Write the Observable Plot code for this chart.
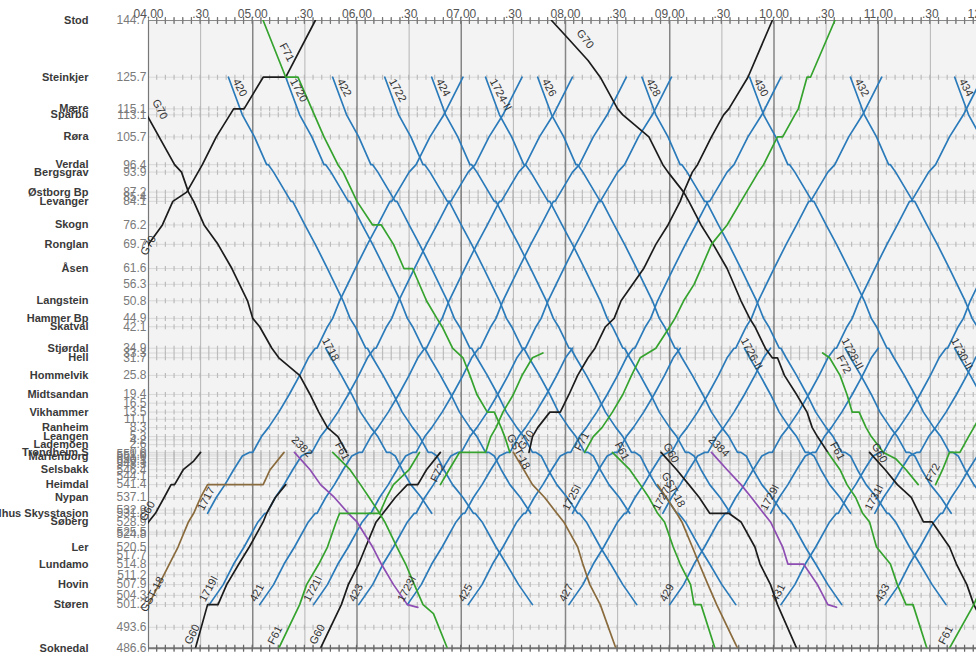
<!DOCTYPE html>
<html><head><meta charset="utf-8">
<script src="https://cdn.jsdelivr.net/npm/d3@7"></script>
<script src="https://cdn.jsdelivr.net/npm/@observablehq/plot@0.6"></script>
<style>html,body{margin:0;padding:0;overflow:hidden;background:#fff}</style>
</head><body><div id="chart"></div>
<script>
// ---------- DATA ----------
// stations north of Trondheim (km from Trondheim S)
const stationsN = [["Stod",144.7],["Steinkjer",125.7],["Mære",115.1],["Sparbu",113.1],["Røra",105.7],["Verdal",96.4],["Bergsgrav",93.9],["Østborg Bp",87.2],["",85.4],["Levanger",84.1],["Skogn",76.2],["Ronglan",69.7],["Åsen",61.6],["",56.3],["Langstein",50.8],["Hammer Bp",44.9],["Skatval",42.1],["Stjørdal",34.9],["",33.3],["Hell",31.7],["Hommelvik",25.8],["Midtsandan",19.4],["",16.5],["Vikhammer",13.5],["",11.1],["Ranheim",8.3],["Leangen",5.3],["",4.2],["Lademoen",2.6],["Trondheim S",0.0]];
// stations on Dovrebanen south of Trondheim (km from Oslo)
const stationsD = [["",551.6],["Marienborg",551.0],["",550.1],["",549.3],["",548.3],["Selsbakk",546.4],["",544.1],["Heimdal",541.4],["Nypan",537.1],["",532.9],["Melhus Skysstasjon",531.8],["Søberg",528.9],["",525.5],["",524.8],["Ler",520.5],["",517.7],["Lundamo",514.8],["",511.2],["Hovin",507.9],["",504.3],["Støren",501.2],["",493.6],["Soknedal",486.6]];

const timeTicks = [["04:00","04.00"],["04:30",".30"],["05:00","05.00"],["05:30",".30"],["06:00","06.00"],["06:30",".30"],["07:00","07.00"],["07:30",".30"],["08:00","08.00"],["08:30",".30"],["09:00","09.00"],["09:30",".30"],["10:00","10.00"],["10:30",".30"],["11:00","11.00"],["11:30",".30"],["12:00","12.00"]];

// local trains southbound: [station, arr, dep] minutes after Steinkjer departure
const southRun = [["Steinkjer",0,0],["Sparbu",8,8],["Røra",15,15],["Verdal",22,23],["Bergsgrav",26,26],["Levanger",36,37],["Skogn",44,44],["Ronglan",50,50],["Åsen",57,57],["Langstein",66,66],["Hammer Bp",70,70],["Skatval",73,73],["Stjørdal",79,80],["Hell",83,83],["Hommelvik",89,89],["Midtsandan",95,95],["Vikhammer",100,100],["Ranheim",106,106],["Leangen",110,110],["Trondheim S",115,117],["Marienborg",120,120],["Selsbakk",124,124],["Heimdal",129,129],["Nypan",135,135],["Melhus Skysstasjon",141,142],["Søberg",146,146],["Ler",154,154],["Lundamo",160,160],["Hovin",167,167],["Støren",175,175]];
// local trains northbound: minutes after Støren departure
const northRun = [["Støren",0,0],["Hovin",8,8],["Lundamo",14,14],["Ler",20,20],["Søberg",28,28],["Melhus Skysstasjon",32,33],["Nypan",38,38],["Heimdal",43,43],["Selsbakk",48,48],["Marienborg",53,53],["Trondheim S",57,59],["Leangen",64,64],["Ranheim",68,68],["Vikhammer",74,74],["Midtsandan",80,80],["Hommelvik",86,86],["Hell",91,91],["Stjørdal",95,96],["Skatval",102,102],["Hammer Bp",105,105],["Langstein",109,109],["Åsen",118,118],["Ronglan",125,125],["Skogn",131,131],["Levanger",138,139],["Bergsgrav",149,149],["Verdal",153,153],["Røra",161,161],["Sparbu",169,169],["Steinkjer",180,180]];

const southLocals = [["420","Steinkjer","04:46","Støren"],["1720","Steinkjer","05:19","Melhus Skysstasjon"],["1718","Stjørdal","05:42","Melhus Skysstasjon"],["422","Steinkjer","05:46","Støren"],["1722","Steinkjer","06:16","Melhus Skysstasjon"],["424","Steinkjer","06:43","Støren"],["1724-II","Steinkjer","07:14","Melhus Skysstasjon"],["426","Steinkjer","07:44","Støren"],["428","Steinkjer","08:44","Støren"],["1726-II","Stjørdal","09:43","Melhus Skysstasjon"],["430","Steinkjer","09:46","Støren"],["1728-II","Stjørdal","10:41","Melhus Skysstasjon"],["432","Steinkjer","10:44","Støren"],["1730-II","Stjørdal","11:44","Melhus Skysstasjon"],["434","Steinkjer","11:44","Støren"]];
const northLocals = [["1717","Melhus Skysstasjon","04:34","Steinkjer"],["1719I","Støren","04:35","Steinkjer"],["421","Støren","05:04","Steinkjer"],["1721I","Støren","05:35","Steinkjer"],["423","Støren","06:01","Steinkjer"],["1723I","Støren","06:29","Stjørdal"],["425","Støren","07:04","Steinkjer"],["427","Støren","08:02","Steinkjer"],["1725I","Melhus Skysstasjon","08:04","Stjørdal"],["1727I","Melhus Skysstasjon","08:56","Stjørdal"],["429","Støren","09:00","Steinkjer"],["1729I","Melhus Skysstasjon","09:58","Stjørdal"],["431","Støren","10:04","Steinkjer"],["1731I","Melhus Skysstasjon","10:58","Stjørdal"],["433","Støren","11:04","Steinkjer"]];

const blackTrains = [
 {id:"G70", lab:["04:02",117.5], rot:62, dx:0, dy:0, pts:[["03:47","Steinkjer"],["04:15","Verdal"],["04:19","Bergsgrav"],["04:23","Østborg Bp"],["04:26","Levanger"],["04:32","Skogn"],["04:40","Ronglan"],["04:48","Åsen"],["04:57","Langstein"],["05:00","Hammer Bp"],["05:04","Skatval"],["05:11","Stjørdal"],["05:15","Hell"],["05:27","Hommelvik"],["05:33","Midtsandan"],["05:38","Vikhammer"],["05:43","Ranheim"],["05:49","Leangen"],["05:54","Trondheim S"]]},
 {id:"G70", lab:["04:00","Ronglan"], rot:-62, dx:-2, dy:12, pts:[["03:52","Åsen"],["04:00","Ronglan"],["04:08","Skogn"],["04:14","Levanger"],["04:22","Østborg Bp"],["04:31","Verdal"],["04:39","Røra"],["04:49","Mære"],["04:55","Mære"],["05:06","Steinkjer"],["05:19","Steinkjer"],["05:36","Stod"]]},
 {id:"G70", lab:["08:06",140.5], rot:52, dx:0, dy:0, pts:[["07:52","Stod"],["08:01",139.0],["08:13",131.3],["08:20","Steinkjer"],["08:30","Mære"],["08:33","Sparbu"],["08:48","Røra"],["08:56","Verdal"],["08:59","Bergsgrav"],["09:08","Østborg Bp"],["09:11","Levanger"],["09:18","Skogn"],["09:25","Ronglan"],["09:33","Åsen"],["09:41","Langstein"],["09:46","Hammer Bp"],["09:49","Skatval"],["09:55","Stjørdal"],["09:59","Hell"],["10:02","Hell"],["10:06","Hommelvik"],["10:13","Midtsandan"],["10:19","Vikhammer"],["10:22","Ranheim"],["10:25","Leangen"],["10:31","Trondheim S"]]},
 {id:"G70", lab:["07:37",0.6], rot:-58, dx:-2, dy:0, pts:[["07:39","Trondheim S"],["07:41","Leangen"],["07:44","Ranheim"],["07:51","Vikhammer"],["07:57","Vikhammer"],["08:02","Midtsandan"],["08:07","Hommelvik"],["08:13","Hell"],["08:17","Stjørdal"],["08:23","Skatval"],["08:28","Hammer Bp"],["08:32","Langstein"],["08:45","Åsen"],["08:52","Ronglan"],["08:59","Skogn"],["09:06","Levanger"],["09:08","Østborg Bp"],["09:13","Bergsgrav"],["09:16","Verdal"],["09:24","Røra"],["09:31","Sparbu"],["09:34","Mære"],["09:45","Steinkjer"],["09:59","Stod"]]},
 {id:"G60", lab:["04:00","Søberg"], rot:-62, dx:-3, dy:0, pts:[["03:50","Ler"],["04:00","Søberg"],["04:04","Melhus Skysstasjon"],["04:09","Nypan"],["04:13","Heimdal"],["04:15","Heimdal"],["04:20","Selsbakk"],["04:26",549.3],["04:30","Trondheim S"]]},
 {id:"G60", lab:["04:27","Soknedal"], rot:-62, dx:-5, dy:-3, pts:[["04:27","Soknedal"],["04:34","Støren"],["04:40","Støren"],["04:45","Hovin"],["04:52","Lundamo"],["04:58","Ler"],["05:06","Søberg"],["05:08","Melhus Skysstasjon"],["05:13","Nypan"],["05:19","Heimdal"]]},
 {id:"G60", lab:["05:39","Soknedal"], rot:-62, dx:-5, dy:-3, pts:[["05:39","Soknedal"],["05:51","Støren"],["05:55","Hovin"],["06:01","Lundamo"],["06:05","Ler"],["06:11","Søberg"],["06:15","Melhus Skysstasjon"],["06:22","Nypan"],["06:29","Heimdal"],["06:35","Heimdal"],["06:40","Selsbakk"],["06:48","Trondheim S"]]},
 {id:"G60", lab:["08:55","Trondheim S"], rot:62, dx:2, dy:-7, pts:[["08:55","Trondheim S"],["09:04","Selsbakk"],["09:11","Heimdal"],["09:17","Nypan"],["09:23","Melhus Skysstasjon"],["09:34","Melhus Skysstasjon"],["09:41","Søberg"],["09:49","Ler"],["09:52","Lundamo"],["09:58","Hovin"],["10:02","Støren"],["10:13","Soknedal"]]},
 {id:"G60", lab:["10:55","Trondheim S"], rot:62, dx:2, dy:-7, pts:[["10:55","Trondheim S"],["11:04","Selsbakk"],["11:11","Heimdal"],["11:19","Nypan"],["11:26","Søberg"],["11:31","Søberg"],["11:41","Ler"],["11:45","Lundamo"],["11:51","Hovin"],["11:55","Støren"],["12:08","Soknedal"]]}
];
const brownTrains = [
 {id:"GST-18", lab:["04:00",498.5], rot:-62, dx:-2, dy:0, pts:[["04:00","Støren"],["04:06","Hovin"],["04:12","Lundamo"],["04:17","Ler"],["04:23","Søberg"],["04:26","Melhus Skysstasjon"],["04:30","Nypan"],["04:34","Heimdal"],["05:06","Heimdal"],["05:10","Selsbakk"],["05:18","Trondheim S"]]},
 {id:"GST-18", lab:["07:26","Leangen"], rot:62, dx:0, dy:0, pts:[["07:30","Trondheim S"],["07:36","Selsbakk"],["07:41","Heimdal"],["07:48","Nypan"],["07:55","Melhus Skysstasjon"],["07:59","Søberg"],["08:07","Ler"],["08:10","Lundamo"],["08:14","Hovin"],["08:20","Støren"],["08:29","Soknedal"]]},
 {id:"GST-18", lab:["08:54","Heimdal"], rot:62, dx:2, dy:-10, pts:[["08:53","Heimdal"],["08:58","Nypan"],["09:04","Melhus Skysstasjon"],["09:07","Søberg"],["09:13","Ler"],["09:17","Lundamo"],["09:22","Hovin"],["09:27","Støren"],["09:39","Soknedal"]]}
];
const purpleTrains = [
 {id:"2382", lab:["05:23","Trondheim S"], rot:45, dx:-2, dy:-12, pts:[["05:24","Trondheim S"],["05:33","Selsbakk"],["05:39","Heimdal"],["05:47","Nypan"],["05:55","Melhus Skysstasjon"],["06:00","Søberg"],["06:09","Ler"],["06:14","Lundamo"],["06:21","Hovin"],["06:29","Støren"],["06:35",500.3]]},
 {id:"2384", lab:["09:23","Trondheim S"], rot:45, dx:-2, dy:-12, pts:[["09:24","Trondheim S"],["09:33","Selsbakk"],["09:41","Heimdal"],["09:47","Nypan"],["09:54","Melhus Skysstasjon"],["09:58","Søberg"],["10:05","Ler"],["10:08","Lundamo"],["10:17","Lundamo"],["10:25","Hovin"],["10:31","Støren"],["10:36",500.3]]}
];
const greenTrains = [
 {id:"F71", lab:["05:13",136.3], rot:62, dx:4, dy:0, pts:[["05:06","Stod"],["05:19","Steinkjer"],["05:26","Steinkjer"],["05:41","Røra"],["05:49","Verdal"],["05:52","Bergsgrav"],["06:00","Levanger"],["06:09","Skogn"],["06:14","Skogn"],["06:21","Ronglan"],["06:27","Åsen"],["06:32","Åsen"],["06:40","Langstein"],["06:46","Hammer Bp"],["06:49","Skatval"],["06:55","Stjørdal"],["07:01","Hell"],["07:05","Hommelvik"],["07:09","Midtsandan"],["07:15","Vikhammer"],["07:19","Vikhammer"],["07:23","Ranheim"],["07:25","Leangen"],["07:28","Trondheim S"]]},
 {id:"F72", lab:["06:48","Heimdal"], rot:-62, dx:-4, dy:-2, pts:[["06:48","Heimdal"],["06:53","Selsbakk"],["06:59","Trondheim S"],["07:14","Trondheim S"],["07:17","Leangen"],["07:20","Ranheim"],["07:24","Vikhammer"],["07:30","Midtsandan"],["07:35","Hommelvik"],["07:41","Hell"],["07:47",33.3]]},
 {id:"F72", lab:["10:33","Hell"], rot:62, dx:5, dy:0, pts:[["10:28",33.3],["10:32","Hell"],["10:38","Hommelvik"],["10:42","Midtsandan"],["10:45","Vikhammer"],["10:49","Vikhammer"],["10:53","Ranheim"],["10:56","Leangen"],["11:03","Trondheim S"],["11:10",550.1],["11:16","Selsbakk"],["11:23","Heimdal"]]},
 {id:"F72", lab:["11:33","Heimdal"], rot:-62, dx:-4, dy:-2, pts:[["11:33","Heimdal"],["11:37","Selsbakk"],["11:41","Trondheim S"],["11:47","Trondheim S"],["11:52","Leangen"],["11:55","Ranheim"],["12:00","Vikhammer"],["12:06","Midtsandan"]]},
 {id:"F71", lab:["08:11","Trondheim S"], rot:-62, dx:-4, dy:-1, pts:[["08:11","Trondheim S"],["08:16","Leangen"],["08:21","Ranheim"],["08:27","Vikhammer"],["08:33","Midtsandan"],["08:38","Hommelvik"],["08:43","Hell"],["08:52","Stjørdal"],["09:00","Skatval"],["09:03","Hammer Bp"],["09:08","Langstein"],["09:14",56.3],["09:18","Åsen"],["09:24","Ronglan"],["09:33","Skogn"],["09:41","Levanger"],["09:51","Bergsgrav"],["09:54","Verdal"],["10:02","Røra"],["10:05","Røra"],["10:12","Sparbu"],["10:14","Mære"],["10:19","Steinkjer"],["10:21","Steinkjer"],["10:35","Stod"]]},
 {id:"F61", lab:["05:15","Soknedal"], rot:-62, dx:-5, dy:-3, pts:[["05:15","Soknedal"],["05:27","Støren"],["05:31","Hovin"],["05:38","Lundamo"],["05:43","Ler"],["05:48","Søberg"],["05:50","Melhus Skysstasjon"],["06:13","Melhus Skysstasjon"],["06:17","Nypan"],["06:21","Heimdal"],["06:30","Selsbakk"],["06:36","Trondheim S"]]},
 {id:"F61", lab:["05:46","Trondheim S"], rot:62, dx:2, dy:-8, pts:[["05:46","Trondheim S"],["05:56","Selsbakk"],["06:02","Heimdal"],["06:07","Nypan"],["06:13","Melhus Skysstasjon"],["06:16","Søberg"],["06:23","Ler"],["06:28","Lundamo"],["06:33","Hovin"],["06:38","Støren"],["06:44",498.2],["06:52","Soknedal"]]},
 {id:"F61", lab:["08:27","Trondheim S"], rot:62, dx:2, dy:-8, pts:[["08:27","Trondheim S"],["08:37","Selsbakk"],["08:43","Heimdal"],["08:48","Nypan"],["08:53","Melhus Skysstasjon"],["08:57","Søberg"],["09:02","Ler"],["09:06","Lundamo"],["09:12","Hovin"],["09:14","Støren"],["09:18","Støren"],["09:26","Soknedal"]]},
 {id:"F61", lab:["10:31","Trondheim S"], rot:62, dx:2, dy:-8, pts:[["10:31","Trondheim S"],["10:38","Selsbakk"],["10:42","Heimdal"],["10:47","Nypan"],["10:51","Melhus Skysstasjon"],["10:55","Søberg"],["10:59","Ler"],["11:07","Lundamo"],["11:11","Hovin"],["11:16","Støren"],["11:20","Støren"],["11:28","Soknedal"]]},
 {id:"F61", lab:["11:41","Soknedal"], rot:-62, dx:-5, dy:-3, pts:[["11:41","Soknedal"],["11:55","Støren"],["12:00","Hovin"],["12:06","Lundamo"]]}
];

// ---------- BUILD ----------
const COLORS = {blue:"#2b7bba", black:"#1c1c1c", green:"#35a32e", brown:"#8a6b3d", purple:"#8e4db3"};
const H = s => { const [h, m] = s.split(":").map(Number); return h + m / 60; };
const TOP = 144.7, JUNCTION = 552.2;
const posOf = (km, line) => line === "N" ? TOP - km : TOP + (JUNCTION - km);
const stationRows = [
  ...stationsN.map(([name, km]) => ({name, km, p: posOf(km, "N")})),
  ...stationsD.map(([name, km]) => ({name, km, p: posOf(km, "D")}))
];
const P = {};
stationRows.forEach(s => { if (s.name && !(s.name in P)) P[s.name] = s.p; });
const yOf = s => typeof s === "number" ? posOf(s, s > 300 ? "D" : "N") : P[s];
const BOTTOM = posOf(486.6, "D");

const trainRows = [];
const labels = [];
let k = 0;
function addTrain(color, pts) {
  const key = "t" + (k++);
  pts.forEach(([t, s]) => trainRows.push({key, color, t: typeof t === "string" ? H(t) : t, p: yOf(s)}));
}
function runPath(run, from, dep, to) {
  const i0 = run.findIndex(r => r[0] === from), i1 = run.findIndex(r => r[0] === to);
  const shift = H(dep) * 60 - run[i0][2];
  const pts = [];
  for (let i = i0; i <= i1; i++) {
    const [s, a, d] = run[i];
    if (i === i0) { pts.push([(d + shift) / 60, s]); continue; }
    pts.push([(a + shift) / 60, s]);
    if (i !== i1 && d !== a) pts.push([(d + shift) / 60, s]);
  }
  return pts;
}
southLocals.forEach(([id, from, dep, to]) => {
  addTrain(COLORS.blue, runPath(southRun, from, dep, to));
  const st = from === "Stjørdal";
  labels.push({text:id, t:H(dep), p:yOf(from), rot:62, dx: st ? -4 : 4, dy: st ? -8 : 4});
});
northLocals.forEach(([id, from, dep, to]) => {
  addTrain(COLORS.blue, runPath(northRun, from, dep, to));
  labels.push({text:id, t:H(dep), p:yOf(from), rot:-62, dx:-4, dy:-2});
});
[[blackTrains, COLORS.black],[brownTrains, COLORS.brown],[purpleTrains, COLORS.purple],[greenTrains, COLORS.green]].forEach(([list, color]) => {
  list.forEach(tr => {
    addTrain(color, tr.pts);
    labels.push({text:tr.id, t:H(tr.lab[0]), p:yOf(tr.lab[1]), rot:tr.rot, dx:tr.dx, dy:tr.dy});
  });
});

const tickRows = timeTicks.map(([t, label]) => ({t: H(t), label, hour: label !== ".30"}));
const pxPerMin = (982 - 148) / 480;
const dash = `1.2 ${(pxPerMin * 5 - 1.2).toFixed(3)}`;
const FONT = "Liberation Sans, Arial, Helvetica, sans-serif";

const marks = [
  Plot.frame({fill:"#f3f3f3", stroke:null}),
  Plot.ruleY(stationRows, {y:"p", stroke:"#d2d2d2", strokeWidth:0.8}),
  Plot.ruleY(stationRows, {y:"p", stroke:"#bcbcbc", strokeWidth:5, strokeDasharray:dash, strokeDashoffset:0.6}),
  Plot.ruleX(tickRows.filter(d => !d.hour), {x:"t", stroke:"#b5b5b5", strokeWidth:1}),
  Plot.ruleX(tickRows.filter(d => d.hour && d.t > 4), {x:"t", stroke:"#858585", strokeWidth:1.5}),
  Plot.ruleX([4], {stroke:"#777", strokeWidth:1.2}),
  Plot.ruleY([0], {stroke:"#888", strokeWidth:1}),
  Plot.ruleY([0], {stroke:"#777", strokeWidth:7, strokeDasharray:dash, strokeDashoffset:0.6}),
  Plot.ruleY([BOTTOM], {stroke:"#777", strokeWidth:2}),
  Plot.ruleY([BOTTOM], {stroke:"#666", strokeWidth:7, strokeDasharray:dash, strokeDashoffset:0.6}),
  Plot.line(trainRows, {x:"t", y:"p", z:"key", stroke:"color", strokeWidth:1.7, clip:true, strokeLinejoin:"round"}),
  Plot.text(stationRows.filter(d => d.name), {y:"p", text:"name", frameAnchor:"left", dx:-60, textAnchor:"end", fontWeight:"bold", fontSize:11, fill:"#3a3a3a"}),
  Plot.text(stationRows, {y:"p", text: d => d.km.toFixed(1), frameAnchor:"left", dx:-2, textAnchor:"end", fontSize:12, fill:"#7a7a7a"}),
  Plot.text(tickRows, {x:"t", text:"label", frameAnchor:"top", dy:-11, fontSize:12, fill:"#555"}),
  ...labels.map(l => Plot.text([l], {x:"t", y:"p", text:"text", rotate:l.rot, dx:l.dx, dy:l.dy, textAnchor:"start", lineAnchor:"bottom", fontSize:11, fill:"#333"}))
];

const chart = Plot.plot({
  width: 1000, height: 653,
  marginLeft: 148, marginRight: 18, marginTop: 20, marginBottom: 5.3,
  x: {domain:[4, 12], axis:null},
  y: {domain:[0, BOTTOM], reverse:true, axis:null},
  color: {type:"identity"},
  style: {fontFamily: FONT, background:"#fff", maxWidth:"none", overflow:"visible"},
  marks
});
document.getElementById("chart").appendChild(chart);
</script></body></html>
